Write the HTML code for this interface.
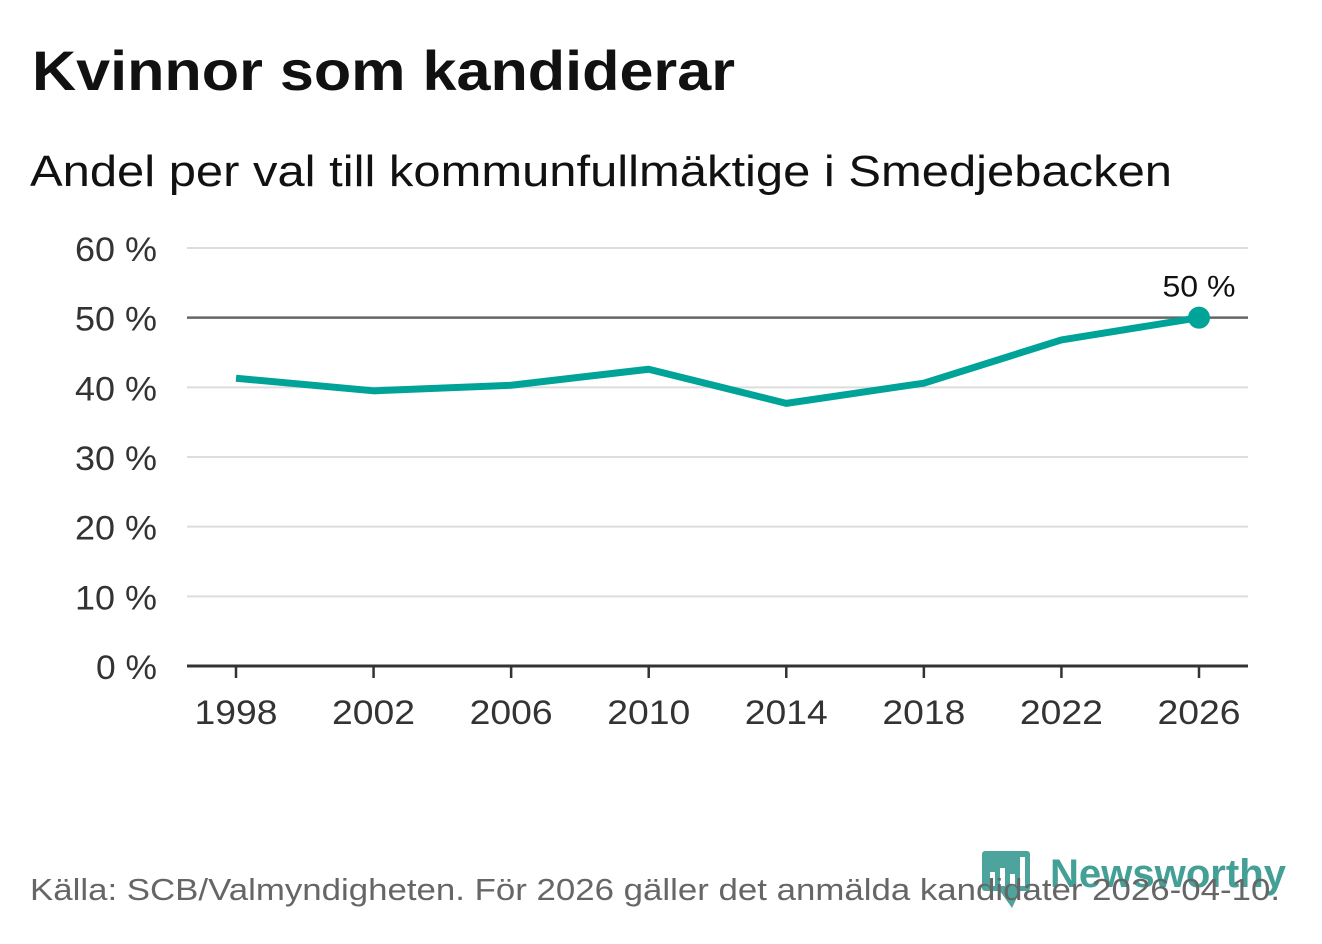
<!DOCTYPE html>
<html><head><meta charset="utf-8"><style>
body{margin:0;width:1322px;height:939px;background:#fff;font-family:"Liberation Sans","DejaVu Sans",sans-serif;overflow:hidden}
</style></head><body>
<svg width="1322" height="939">
<text x="32" y="90" font-size="56" font-weight="bold" fill="#111" textLength="703" lengthAdjust="spacingAndGlyphs">Kvinnor som kandiderar</text>
<text x="30" y="186" font-size="44" fill="#111" textLength="1142" lengthAdjust="spacingAndGlyphs">Andel per val till kommunfullmäktige i Smedjebacken</text>
<g id="grid"></g><g id="xaxis"></g><g id="series"></g>
<g>
<rect x="982" y="851" width="48" height="40" rx="3" fill="#3a9a92" opacity="0.9"/>
<path d="M1000 891 L1012 908 L1020 891 Z" fill="#3a9a92" opacity="0.9"/>
<rect x="990" y="872" width="5" height="14" fill="#fff"/><rect x="1000" y="868" width="5" height="18" fill="#fff"/><rect x="1010" y="874" width="5" height="12" fill="#fff"/><rect x="1020" y="857" width="5" height="29" fill="#fff"/>
<text x="1050" y="887" font-size="40" font-weight="bold" fill="#3a9a92" opacity="0.95" textLength="236" lengthAdjust="spacingAndGlyphs">Newsworthy</text>
</g>
<text x="30" y="900" font-size="31" fill="#666" textLength="1250" lengthAdjust="spacingAndGlyphs">Källa: SCB/Valmyndigheten. För 2026 gäller det anmälda kandidater 2026-04-10.</text>
</svg>
<script>
const years=[1998,2002,2006,2010,2014,2018,2022,2026];
const values=[41.3,39.5,40.3,42.6,37.7,40.6,46.8,50];
const yTicks=[0,10,20,30,40,50,60];
const lastLabel="50 %";
const ns="http://www.w3.org/2000/svg";
const x=v=>236+(v-1998)*(1199-236)/28;
const y=v=>666-v*(666-248)/60;
function mk(t,a,p,txt){const e=document.createElementNS(ns,t);for(const k in a)e.setAttribute(k,a[k]);if(txt!==undefined)e.textContent=txt;p.appendChild(e);return e;}
const g=document.getElementById('grid'),xa=document.getElementById('xaxis'),s=document.getElementById('series');
yTicks.forEach(v=>{
 const l=mk('line',{x1:187,x2:1248,y1:y(v),y2:y(v),stroke:v===0?'#333':(v===50?'#666':'#ddd'),'stroke-width':v===0?3:(v===50?2.5:2)},g);
 
 
 const lab=v+' %';
 const t=mk('text',{x:157,y:y(v)+13,'font-size':34,'text-anchor':'end',fill:'#333',textLength:lab.length===3?61:82,lengthAdjust:'spacingAndGlyphs'},g,lab);
 
 
});
years.forEach(yr=>{
 const l=mk('line',{x1:x(yr),x2:x(yr),y1:666,y2:678,stroke:'#333','stroke-width':2.5},xa);
 
 
 const t=mk('text',{x:x(yr),y:724,'font-size':34,'text-anchor':'middle',fill:'#333',textLength:83,lengthAdjust:'spacingAndGlyphs'},xa,yr);
 
 
});
const p=mk('polyline',{points:years.map((yr,i)=>x(yr)+','+y(values[i])).join(' '),fill:'none',stroke:'#00a398','stroke-width':7,'stroke-linejoin':'round'},s);


const n=years.length-1;
const c=mk('circle',{cx:x(years[n]),cy:y(values[n]),r:11,fill:'#00a398'},s);


const lt=mk('text',{x:x(years[n]),y:y(values[n])-21,'font-size':30,'text-anchor':'middle',fill:'#111',textLength:73,lengthAdjust:'spacingAndGlyphs'},s,lastLabel);


</script>
</body></html>
